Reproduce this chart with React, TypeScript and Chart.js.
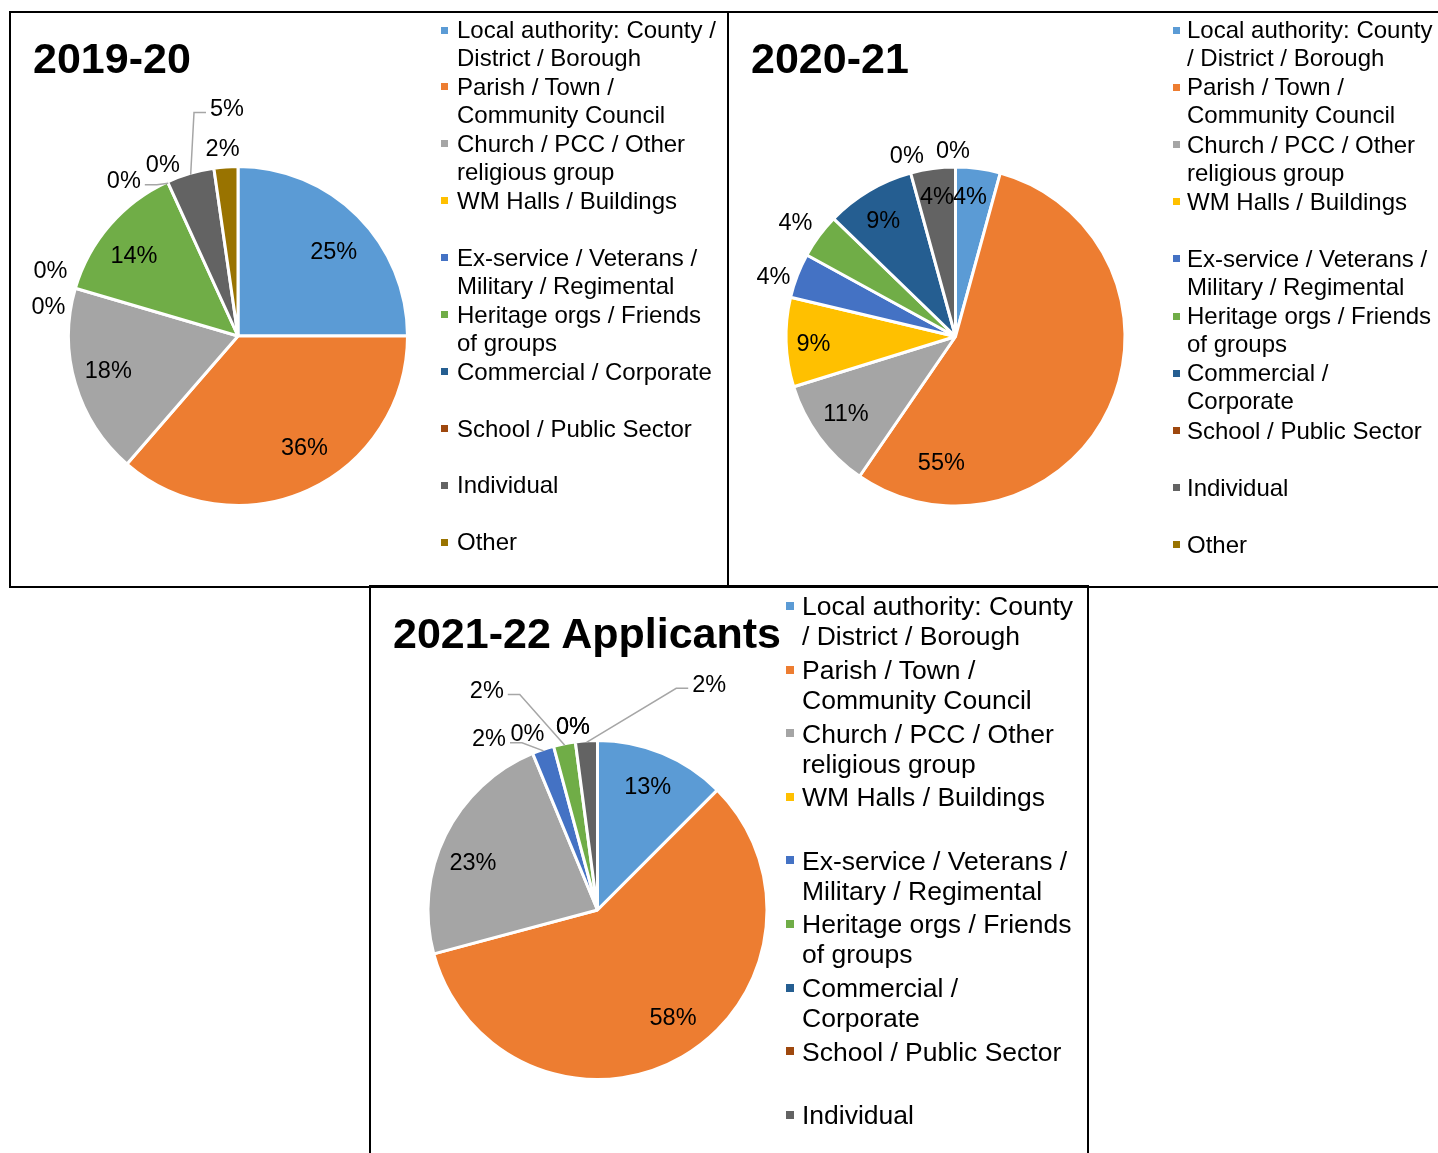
import React, { useEffect, useRef } from "react";
import { Chart, registerables } from "chart.js";

Chart.register(...registerables);

// ---------- DATA ----------
const categories = [
  "Local authority: County / District / Borough",
  "Parish / Town / Community Council",
  "Church / PCC / Other religious group",
  "WM Halls / Buildings",
  "Ex-service / Veterans / Military / Regimental",
  "Heritage orgs / Friends of groups",
  "Commercial / Corporate",
  "School / Public Sector",
  "Individual",
  "Other",
];
const sliceColors = [
  "#5B9BD5",
  "#ED7D31",
  "#A5A5A5",
  "#FFC000",
  "#4472C4",
  "#70AD47",
  "#255E91",
  "#9E480E",
  "#636363",
  "#997300",
];
const values2019 = [11, 16, 8, 0, 0, 6, 0, 0, 2, 1];
const values2020 = [2, 26, 5, 4, 2, 2, 4, 0, 2, 0];
const values2021 = [6, 28, 11, 0, 1, 1, 0, 0, 1];
const titles = ["2019-20", "2020-21", "2021-22 Applicants"];

// ---------- LABEL PLACEMENT (style) ----------
type Place = { f: number; dx: number; dy: number; leader?: boolean };
const IN = 0.78;
const OUT = 1.12;
const place2019: Place[] = [
  { f: IN, dx: 3, dy: 7 },
  { f: IN, dx: 12, dy: -9 },
  { f: IN, dx: -4, dy: -3 },
  { f: OUT, dx: -7, dy: -13 },
  { f: OUT, dx: -9, dy: 23 },
  { f: IN, dx: -5, dy: 4 },
  { f: OUT, dx: -36, dy: 15, leader: true },
  { f: OUT, dx: 3, dy: -1 },
  { f: OUT, dx: 42, dy: -48, leader: true },
  { f: OUT, dx: -2, dy: -1 },
];
const place2020: Place[] = [
  { f: IN, dx: -3, dy: -11 },
  { f: IN, dx: -133, dy: 70 },
  { f: IN, dx: -4, dy: -1.5 },
  { f: IN, dx: -11, dy: 2 },
  { f: OUT, dx: -6.5, dy: 6.4 },
  { f: OUT, dx: -8.6, dy: -3.5 },
  { f: IN, dx: -5.6, dy: -4.4 },
  { f: OUT, dx: 1, dy: 0 },
  { f: IN, dx: -1, dy: -11 },
  { f: OUT, dx: -2.5, dy: 1 },
];
const place2021: Place[] = [
  { f: IN, dx: 0, dy: -3 },
  { f: IN, dx: 10, dy: -7 },
  { f: IN, dx: -7, dy: 10 },
  { f: OUT, dx: 2, dy: -4 },
  { f: OUT, dx: -48, dy: 6, leader: true },
  { f: OUT, dx: -74, dy: -36, leader: true },
  { f: OUT, dx: 0, dy: 2 },
  { f: OUT, dx: 0, dy: 2 },
  { f: OUT, dx: 124, dy: -39, leader: true },
];

const FONT = "'Liberation Sans', Arial, sans-serif";

const pctLabelPlugin = {
  id: "pctLabels",
  afterDatasetsDraw(chart: any, _args: any, opts: any) {
    const meta = chart.getDatasetMeta(0);
    const data = chart.data.datasets[0].data as number[];
    const total = data.reduce((a, b) => a + b, 0);
    const ctx = chart.ctx as CanvasRenderingContext2D;
    const fs = 23.5;
    ctx.save();
    ctx.font = `${fs}px ${FONT}`;
    ctx.textAlign = "center";
    ctx.textBaseline = "alphabetic";
    meta.data.forEach((arc: any, i: number) => {
      const p: Place = opts.placements[i];
      if (!p) return;
      const { x, y, startAngle, endAngle, outerRadius } = arc.getProps(
        ["x", "y", "startAngle", "endAngle", "outerRadius"],
        true
      );
      const R = outerRadius - 1.5;
      const mid = (startAngle + endAngle) / 2;
      const ux = Math.cos(mid);
      const uy = Math.sin(mid);
      const tx = x + ux * R * p.f + p.dx;
      const ty = y + uy * R * p.f + p.dy;
      const text = Math.round((data[i] / total) * 100) + "%";
      if (p.leader) {
        const w = ctx.measureText(text).width;
        const ax = x + ux * R;
        const ay = y + uy * R;
        const side = tx < ax ? 1 : -1;
        const ex = tx + side * (w / 2 + 4);
        const ey = ty + 5;
        let bx = ex + side * 12;
        if ((bx - ax) * side > 0) bx = ax;
        ctx.strokeStyle = "#A6A6A6";
        ctx.lineWidth = 1.5;
        ctx.beginPath();
        ctx.moveTo(ex, ey);
        ctx.lineTo(bx, ey);
        ctx.lineTo(ax, ay);
        ctx.stroke();
      }
      ctx.fillStyle = "#000";
      ctx.fillText(text, tx, ty + 0.358 * fs);
    });
    ctx.restore();
  },
};

type PanelCfg = {
  values: number[];
  placements: Place[];
  title: string;
  box: { left: number; top: number; width: number; height: number };
  canvas: { left: number; top: number; w: number; h: number; cx: number; cy: number };
  titlePos: { left: number; centerY: number };
  legend: {
    markerX: number;
    textX: number;
    firstCenter: number;
    spacing: number;
    font: number;
    lh: number;
    width: number;
    marker: number;
  };
};

const panels: PanelCfg[] = [
  {
    values: values2019,
    placements: place2019,
    title: titles[0],
    box: { left: 9, top: 11, width: 720, height: 577 },
    canvas: { left: 11, top: 13, w: 716, h: 572, cx: 227, cy: 323 },
    titlePos: { left: 33, centerY: 58 },
    legend: { markerX: 441, textX: 457, firstCenter: 30, spacing: 56.9, font: 24, lh: 28, width: 264, marker: 7 },
  },
  {
    values: values2020,
    placements: place2020,
    title: titles[1],
    box: { left: 727, top: 11, width: 720, height: 577 },
    canvas: { left: 729, top: 13, w: 709, h: 572, cx: 226.5, cy: 323.5 },
    titlePos: { left: 751, centerY: 58 },
    legend: { markerX: 1173, textX: 1187, firstCenter: 30, spacing: 57.2, font: 24, lh: 28, width: 250, marker: 7 },
  },
  {
    values: values2021,
    placements: place2021,
    title: titles[2],
    box: { left: 369, top: 585, width: 720, height: 700 },
    canvas: { left: 371, top: 587, w: 716, h: 566, cx: 226.5, cy: 323 },
    titlePos: { left: 393, centerY: 633 },
    legend: { markerX: 786, textX: 802, firstCenter: 606, spacing: 63.6, font: 26.5, lh: 30, width: 276, marker: 8 },
  },
];

function PieCanvas({ cfg }: { cfg: PanelCfg }) {
  const ref = useRef<HTMLCanvasElement>(null);
  useEffect(() => {
    const c = ref.current!;
    const S = 200;
    const cv = cfg.canvas;
    const padding = {
      left: cv.cx - S,
      top: cv.cy - S,
      right: cv.w - cv.cx - S,
      bottom: cv.h - cv.cy - S,
    };
    const n = cfg.values.length;
    const chart = new Chart(c, {
      type: "pie",
      data: {
        labels: categories.slice(0, n),
        datasets: [
          {
            data: cfg.values,
            backgroundColor: sliceColors.slice(0, n),
            borderColor: "#ffffff",
            borderWidth: 3,
            radius: 169.5,
          } as any,
        ],
      },
      options: {
        responsive: false,
        animation: false,
        devicePixelRatio: 1,
        layout: { padding },
        events: [],
        plugins: {
          legend: { display: false },
          tooltip: { enabled: false },
          pctLabels: { placements: cfg.placements },
        } as any,
      },
      plugins: [pctLabelPlugin as any],
    });
    return () => chart.destroy();
  }, [cfg]);
  const cv = cfg.canvas;
  return (
    <canvas
      ref={ref}
      width={cv.w}
      height={cv.h}
      style={{ position: "absolute", left: cv.left, top: cv.top, width: cv.w, height: cv.h }}
    />
  );
}

function Panel({ cfg }: { cfg: PanelCfg }) {
  const n = cfg.values.length;
  const lg = cfg.legend;
  const tf = 43;
  const tlh = 48;
  const titleTop = cfg.titlePos.centerY - ((tlh - 1.117 * tf) / 2 + 0.905 * tf - 0.358 * tf);
  const textOffset = (lg.lh - 1.117 * lg.font) / 2 + 0.905 * lg.font - 0.358 * lg.font;
  return (
    <>
      <PieCanvas cfg={cfg} />
      <div
        style={{
          position: "absolute",
          left: cfg.box.left,
          top: cfg.box.top,
          width: cfg.box.width,
          height: cfg.box.height,
          border: "2px solid #000",
          boxSizing: "border-box",
          pointerEvents: "none",
        }}
      />
      <div
        style={{
          position: "absolute",
          left: cfg.titlePos.left,
          top: titleTop,
          fontSize: tf,
          lineHeight: `${tlh}px`,
          fontWeight: "bold",
          fontFamily: FONT,
          color: "#000",
          whiteSpace: "nowrap",
        }}
      >
        {cfg.title}
      </div>
      {categories.slice(0, n).map((label, i) => {
        const center = lg.firstCenter + i * lg.spacing;
        return (
          <React.Fragment key={i}>
            <div
              style={{
                position: "absolute",
                left: lg.markerX,
                top: center - lg.marker / 2,
                width: lg.marker,
                height: lg.marker,
                background: sliceColors[i],
              }}
            />
            <div
              style={{
                position: "absolute",
                left: lg.textX,
                top: center - textOffset,
                width: lg.width,
                fontSize: lg.font,
                lineHeight: `${lg.lh}px`,
                fontFamily: FONT,
                color: "#000",
              }}
            >
              {label}
            </div>
          </React.Fragment>
        );
      })}
    </>
  );
}

export default function App() {
  useEffect(() => {
    document.body.style.overflow = "hidden";
  }, []);
  return (
    <div
      style={{
        position: "fixed",
        left: 0,
        top: 0,
        width: 1438,
        height: 1153,
        overflow: "hidden",
        background: "#fff",
      }}
    >
      {panels.map((p, i) => (
        <Panel key={i} cfg={p} />
      ))}
    </div>
  );
}
